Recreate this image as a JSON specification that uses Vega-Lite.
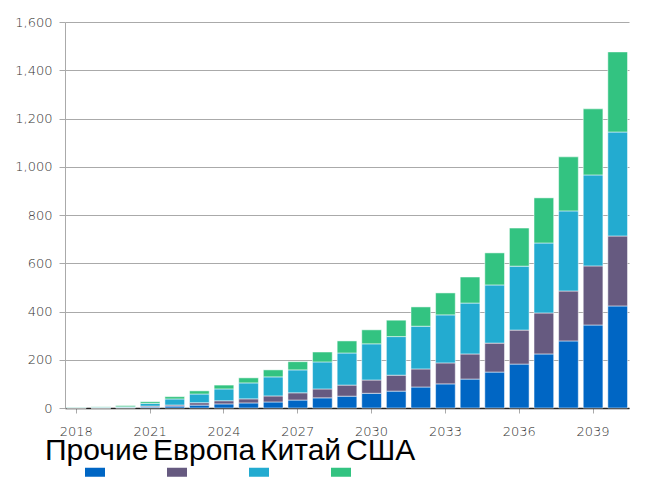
{
  "$schema": "https://vega.github.io/schema/vega-lite/v6.json",
  "width": 564,
  "height": 386,
  "autosize": "none",
  "padding": {"left": 65, "top": 22, "right": 17, "bottom": 84},
  "background": "#ffffff",
  "data": {
    "values": [
      {"year": 2018, "region": "Прочие", "value": 0.5}, {"year": 2018, "region": "Европа", "value": 0.5}, {"year": 2018, "region": "Китай", "value": 2}, {"year": 2018, "region": "США", "value": 1},
      {"year": 2019, "region": "Прочие", "value": 0.5}, {"year": 2019, "region": "Европа", "value": 0.5}, {"year": 2019, "region": "Китай", "value": 2.5}, {"year": 2019, "region": "США", "value": 1.5},
      {"year": 2020, "region": "Прочие", "value": 1}, {"year": 2020, "region": "Европа", "value": 1}, {"year": 2020, "region": "Китай", "value": 3}, {"year": 2020, "region": "США", "value": 5},
      {"year": 2021, "region": "Прочие", "value": 4}, {"year": 2021, "region": "Европа", "value": 4}, {"year": 2021, "region": "Китай", "value": 11}, {"year": 2021, "region": "США", "value": 7},
      {"year": 2022, "region": "Прочие", "value": 8}, {"year": 2022, "region": "Европа", "value": 4.5}, {"year": 2022, "region": "Китай", "value": 25}, {"year": 2022, "region": "США", "value": 9.5},
      {"year": 2023, "region": "Прочие", "value": 12}, {"year": 2023, "region": "Европа", "value": 10}, {"year": 2023, "region": "Китай", "value": 36}, {"year": 2023, "region": "США", "value": 13},
      {"year": 2024, "region": "Прочие", "value": 17}, {"year": 2024, "region": "Европа", "value": 13}, {"year": 2024, "region": "Китай", "value": 49}, {"year": 2024, "region": "США", "value": 16},
      {"year": 2025, "region": "Прочие", "value": 21}, {"year": 2025, "region": "Европа", "value": 17}, {"year": 2025, "region": "Китай", "value": 66}, {"year": 2025, "region": "США", "value": 21},
      {"year": 2026, "region": "Прочие", "value": 25}, {"year": 2026, "region": "Европа", "value": 25}, {"year": 2026, "region": "Китай", "value": 79}, {"year": 2026, "region": "США", "value": 29},
      {"year": 2027, "region": "Прочие", "value": 33}, {"year": 2027, "region": "Европа", "value": 30}, {"year": 2027, "region": "Китай", "value": 95}, {"year": 2027, "region": "США", "value": 34},
      {"year": 2028, "region": "Прочие", "value": 42}, {"year": 2028, "region": "Европа", "value": 37}, {"year": 2028, "region": "Китай", "value": 112}, {"year": 2028, "region": "США", "value": 41},
      {"year": 2029, "region": "Прочие", "value": 49}, {"year": 2029, "region": "Европа", "value": 46}, {"year": 2029, "region": "Китай", "value": 133}, {"year": 2029, "region": "США", "value": 50},
      {"year": 2030, "region": "Прочие", "value": 61}, {"year": 2030, "region": "Европа", "value": 55}, {"year": 2030, "region": "Китай", "value": 150}, {"year": 2030, "region": "США", "value": 58},
      {"year": 2031, "region": "Прочие", "value": 70}, {"year": 2031, "region": "Европа", "value": 66}, {"year": 2031, "region": "Китай", "value": 160}, {"year": 2031, "region": "США", "value": 68},
      {"year": 2032, "region": "Прочие", "value": 87}, {"year": 2032, "region": "Европа", "value": 75}, {"year": 2032, "region": "Китай", "value": 177}, {"year": 2032, "region": "США", "value": 80},
      {"year": 2033, "region": "Прочие", "value": 100}, {"year": 2033, "region": "Европа", "value": 87}, {"year": 2033, "region": "Китай", "value": 199}, {"year": 2033, "region": "США", "value": 91},
      {"year": 2034, "region": "Прочие", "value": 120}, {"year": 2034, "region": "Европа", "value": 104}, {"year": 2034, "region": "Китай", "value": 211}, {"year": 2034, "region": "США", "value": 108},
      {"year": 2035, "region": "Прочие", "value": 149}, {"year": 2035, "region": "Европа", "value": 120}, {"year": 2035, "region": "Китай", "value": 241}, {"year": 2035, "region": "США", "value": 133},
      {"year": 2036, "region": "Прочие", "value": 182}, {"year": 2036, "region": "Европа", "value": 141}, {"year": 2036, "region": "Китай", "value": 265}, {"year": 2036, "region": "США", "value": 158},
      {"year": 2037, "region": "Прочие", "value": 224}, {"year": 2037, "region": "Европа", "value": 170}, {"year": 2037, "region": "Китай", "value": 290}, {"year": 2037, "region": "США", "value": 187},
      {"year": 2038, "region": "Прочие", "value": 278}, {"year": 2038, "region": "Европа", "value": 207}, {"year": 2038, "region": "Китай", "value": 332}, {"year": 2038, "region": "США", "value": 224},
      {"year": 2039, "region": "Прочие", "value": 344}, {"year": 2039, "region": "Европа", "value": 245}, {"year": 2039, "region": "Китай", "value": 377}, {"year": 2039, "region": "США", "value": 274},
      {"year": 2040, "region": "Прочие", "value": 423}, {"year": 2040, "region": "Европа", "value": 290}, {"year": 2040, "region": "Китай", "value": 431}, {"year": 2040, "region": "США", "value": 332}
    ]
  },
  "transform": [
    {"stack": "value", "groupby": ["year"], "as": ["v0", "v1"]}
  ],
  "mark": {"type": "bar", "stroke": "#ffffff", "strokeOpacity": 0.5, "strokeWidth": 1},
  "encoding": {
    "x": {
      "field": "year",
      "type": "ordinal",
      "scale": {"paddingInner": 0.2, "paddingOuter": 0.06},
      "axis": {
        "title": null,
        "values": [2018, 2021, 2024, 2027, 2030, 2033, 2036, 2039],
        "labelAngle": 0,
        "tickSize": 5,
        "tickColor": "#aaaaaa",
        "domainColor": "#222222",
        "domainWidth": 1.5,
        "labelPadding": 12,
        "labelFont": "DejaVu Sans",
        "labelFontWeight": 200,
        "labelFontSize": 13,
        "labelColor": "#333333"
      }
    },
    "y": {
      "field": "v1",
      "type": "quantitative",
      "scale": {"domain": [0, 1600]},
      "axis": {
        "title": null,
        "values": [0, 200, 400, 600, 800, 1000, 1200, 1400, 1600],
        "format": ",d",
        "grid": true,
        "gridColor": "#aaaaaa",
        "domainColor": "#aaaaaa",
        "tickColor": "#aaaaaa",
        "tickSize": 6,
        "labelPadding": 7,
        "labelFont": "DejaVu Sans",
        "labelFontWeight": 200,
        "labelFontSize": 13,
        "labelColor": "#333333"
      }
    },
    "y2": {"field": "v0"},
    "color": {
      "field": "region",
      "type": "nominal",
      "scale": {
        "domain": ["Прочие", "Европа", "Китай", "США"],
        "range": ["#0066c4", "#665a80", "#23abd0", "#33c381"]
      },
      "legend": {
        "title": null,
        "orient": "none",
        "legendX": 20,
        "legendY": 440,
        "direction": "horizontal",
        "symbolType": "M-1,-0.45H1V0.45H-1Z",
        "symbolSize": 400,
        "symbolStrokeWidth": 0,
        "labelExpr": "''",
        "labelFontSize": 1,
        "labelOffset": 0,
        "columnPadding": 62
      }
    },
    "opacity": {
      "field": "region",
      "type": "nominal",
      "sort": ["Прочие", "Европа", "Китай", "США"],
      "scale": {"range": [1, 1]},
      "legend": {
        "title": null,
        "orient": "none",
        "legendX": -20,
        "legendY": 414,
        "direction": "horizontal",
        "symbolSize": 0,
        "symbolStrokeWidth": 0,
        "labelFont": "Liberation Sans",
        "labelFontSize": 30,
        "labelColor": "#000000",
        "labelOffset": -30,
        "columnPadding": 4
      }
    }
  },
  "config": {
    "view": {"stroke": null}
  }
}
